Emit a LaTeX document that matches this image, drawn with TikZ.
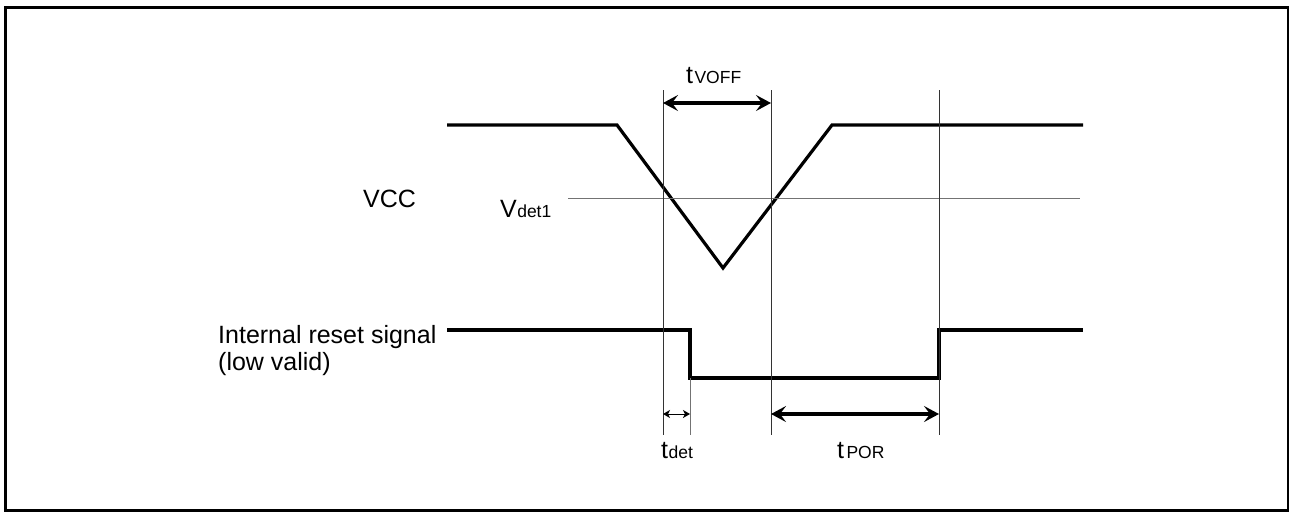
\documentclass[tikz,border=0pt]{standalone}
\usepackage{fontspec}
\setmainfont{Liberation Sans}
\usetikzlibrary{arrows.meta}
\begin{document}
\begin{tikzpicture}[x=1pt,y=-1pt,
  wave/.style={line width=3.2pt, line join=miter},
  guide/.style={line width=0.9pt, black!80},
  lvl/.style={line width=1pt, black!55},
  bigarrow/.style={line width=3.2pt, {Stealth[length=15pt,width=16pt,inset=6pt]}-{Stealth[length=15pt,width=16pt,inset=6pt]}},
  smallarrow/.style={line width=1pt, {Stealth[length=7pt,width=8pt,inset=2pt]}-{Stealth[length=7pt,width=8pt,inset=2pt]}},
  lbl/.style={inner sep=0pt, font=\fontsize{25}{27}\selectfont},
  sub/.style={inner sep=0pt, font=\fontsize{17.5}{19}\selectfont},
]
\useasboundingbox (0,0) rectangle (1290,512);
\draw[line width=2.6pt] (5.5,7.3) rectangle (1287.8,510.7);

% VCC waveform
\coordinate (v0) at (447,125);
\coordinate (v1) at (617,125);
\coordinate (vmin) at (723,268);
\coordinate (v2) at (832,125);
\coordinate (v3) at (1083,125);
\draw[wave] (v0) -- (v1) -- (vmin) -- (v2) -- (v3);

% Vdet1 level
\coordinate (d0) at (568,198);
\coordinate (d1) at (1080,198);
\draw[lvl] (d0) -- (d1);

% reset signal
\coordinate (r0) at (447,330);
\coordinate (r1) at (690,330);
\coordinate (r2) at (690,378);
\coordinate (r3) at (939,378);
\coordinate (r4) at (939,330);
\coordinate (r5) at (1083,330);
\draw[wave] (r0) -- (r1) -- (r2) -- (r3) -- (r4) -- (r5);

% guide lines
\coordinate (g1t) at (663,90);  \coordinate (g1b) at (663,435);
\coordinate (g2t) at (771,90);  \coordinate (g2b) at (771,435);
\coordinate (g3t) at (939,90);  \coordinate (g3b) at (939,435);
\coordinate (g4b) at (690,435);
\draw[guide] (g1t) -- (g1b);
\draw[guide] (g2t) -- (g2b);
\draw[guide] (g3t) -- (g3b);
\draw[guide, black!55] (r2) -- (g4b);

% dimension arrows
\coordinate (a1) at (663,103); \coordinate (a2) at (771,103);
\draw[bigarrow] (a1) -- (a2);
\coordinate (b1) at (771,414); \coordinate (b2) at (939,414);
\draw[bigarrow] (b1) -- (b2);
\coordinate (c1) at (663,414); \coordinate (c2) at (690,414);
\draw[smallarrow] (c1) -- (c2);

% labels
\node[lbl, anchor=base west] (tvoff) at (686,83) {t};
\node[sub, anchor=base west, xshift=1pt] (tvoffs) at (tvoff.base east) {VOFF};
\node[lbl, anchor=base west] (tdet) at (661,458) {t};
\node[sub, anchor=base west] (tdets) at (tdet.base east) {det};
\node[lbl, anchor=base west] (tpor) at (837,458) {t};
\node[sub, anchor=base west, xshift=2pt] (tpors) at (tpor.base east) {POR};
\node[lbl, anchor=base west] (vcc) at (363,207) {VCC};
\node[lbl, anchor=base west] (vdet) at (500,217) {V};
\node[sub, anchor=base west] (vdets) at (vdet.base east) {det1};
\node[lbl, anchor=base west] (irs) at (218,343) {Internal reset signal};
\node[lbl, anchor=base west] (lv) at (218,370) {(low valid)};
\end{tikzpicture}
\end{document}
